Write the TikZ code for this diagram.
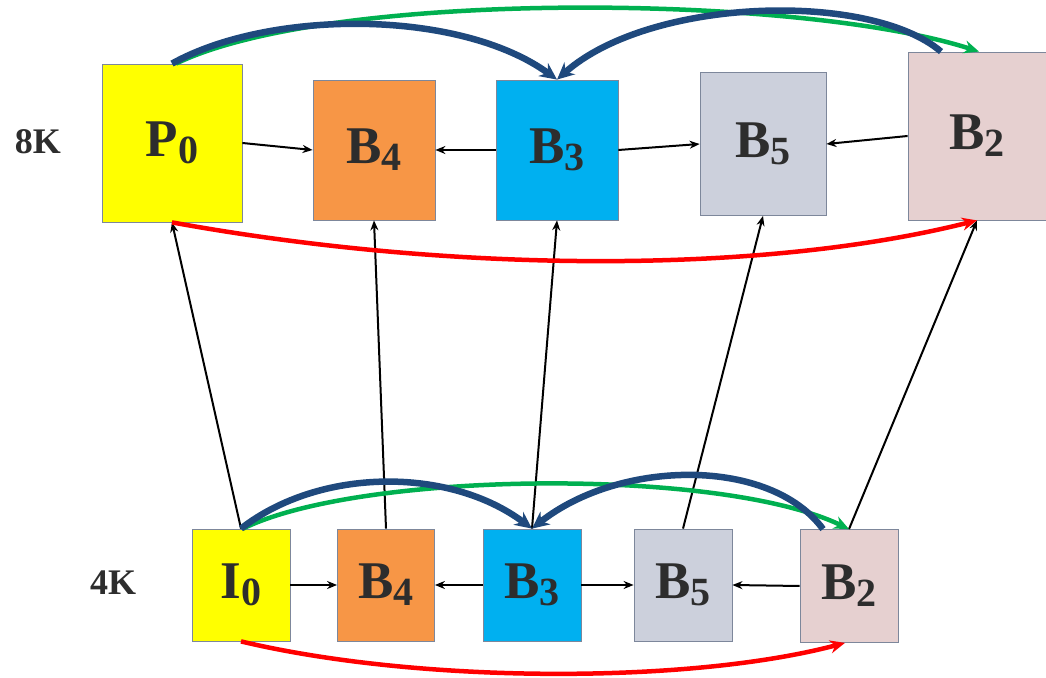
\documentclass[tikz,border=0pt]{standalone}
\usepackage{fontspec}
\setmainfont{Liberation Serif}
\usetikzlibrary{arrows.meta}
\definecolor{boxyellow}{RGB}{255,255,0}
\definecolor{boxorange}{RGB}{247,150,70}
\definecolor{boxcyan}{RGB}{0,176,240}
\definecolor{boxgray}{RGB}{204,208,220}
\definecolor{boxpink}{RGB}{230,208,208}
\definecolor{edgegray}{RGB}{125,135,155}
\definecolor{labelgray}{RGB}{45,45,45}
\definecolor{refblue}{RGB}{31,73,125}
\definecolor{refgreen}{RGB}{0,176,80}
\definecolor{refred}{RGB}{255,0,0}

% frame name with lowered index
\newcommand{\frm}[2]{#1\raisebox{-7pt}{\fontsize{40}{40}\selectfont #2}}

\begin{document}
\begin{tikzpicture}[x=1pt, y=1pt,
  picbox/.style={draw=edgegray, line width=0.8pt, inner sep=0pt, text=labelgray,
    font=\fontsize{53}{53}\selectfont\bfseries},
  reslabel/.style={text=labelgray, font=\fontsize{36}{36}\selectfont\bfseries},
  predarrow/.style={-{Stealth[length=10pt,width=8pt]}, line width=2pt},
  bluearc/.style={refblue, line width=6.5pt, -{Stealth[length=17pt,width=16pt]}},
  greenarc/.style={refgreen, line width=4.5pt, -{Stealth[length=15pt,width=13pt]}},
  redarc/.style={refred, line width=4.5pt, -{Stealth[length=15pt,width=13pt]}}]

  \useasboundingbox (0,0) rectangle (1046,677);

  % resolution labels
  \node[reslabel] (hi) at (38,535) {8K};
  \node[reslabel] (lo) at (113,94) {4K};

  % 8K frames
  \node[picbox, fill=boxyellow, minimum width=140, minimum height=158] (P0) at (172,534) {\frm{P}{0}};
  \node[picbox, fill=boxorange, minimum width=122, minimum height=140] (B4t) at (374,527) {\frm{B}{4}};
  \node[picbox, fill=boxcyan, minimum width=122, minimum height=140] (B3t) at (557,527) {\frm{B}{3}};
  \node[picbox, fill=boxgray, minimum width=126, minimum height=143] (B5t) at (763,533) {\frm{B}{5}};
  \node[picbox, fill=boxpink, minimum width=138, minimum height=168] (B2t) at (977,541) {\frm{B}{2}};

  % 4K frames
  \node[picbox, fill=boxyellow, minimum width=98, minimum height=112] (I0) at (241,92) {\frm{I}{0}};
  \node[picbox, fill=boxorange, minimum width=97, minimum height=112] (B4b) at (386,92) {\frm{B}{4}};
  \node[picbox, fill=boxcyan, minimum width=98, minimum height=112] (B3b) at (532,92) {\frm{B}{3}};
  \node[picbox, fill=boxgray, minimum width=98, minimum height=112] (B5b) at (683,92) {\frm{B}{5}};
  \node[picbox, fill=boxpink, minimum width=98, minimum height=113] (B2b) at (849,91) {\frm{B}{2}};

  % prediction inside each row
  \draw[predarrow] (P0.east) -- (B4t.west);
  \draw[predarrow] (B3t.west) -- (B4t.east);
  \draw[predarrow] (B3t.east) -- (B5t.west);
  \draw[predarrow] (B2t.west) -- (B5t.east);
  \draw[predarrow] (I0.east) -- (B4b.west);
  \draw[predarrow] (B3b.west) -- (B4b.east);
  \draw[predarrow] (B3b.east) -- (B5b.west);
  \draw[predarrow] (B2b.west) -- (B5b.east);

  % 4K to 8K
  \draw[predarrow] (I0.north) -- (P0.south);
  \draw[predarrow] (B4b.north) -- (B4t.south);
  \draw[predarrow] (B3b.north) -- (B3t.south);
  \draw[predarrow] (B5b.north) -- (B5t.south);
  \draw[predarrow] (B2b.north) -- (B2t.south);

  % long references, 8K
  \draw[greenarc] ([xshift=4pt]P0.north) .. controls (330,688) and (800,683) .. ([xshift=2pt]B2t.north);
  \draw[bluearc] (P0.north) .. controls (270,668) and (460,668) .. (B3t.north);
  \draw[bluearc] ([xshift=-36pt]B2t.north) .. controls (870,686) and (650,680) .. (B3t.north);
  \draw[redarc] (P0.south) .. controls (450,404) and (760,402) .. (B2t.south);

  % long references, 4K
  \draw[greenarc] ([xshift=2pt]I0.north) .. controls (360,206) and (720,210) .. (B2b.north);
  \draw[bluearc] (I0.north) .. controls (320,210) and (450,210) .. (B3b.north);
  \draw[bluearc] ([xshift=-26pt]B2b.north) .. controls (770,220) and (620,218) .. (B3b.north);
  \draw[redarc] (I0.south) .. controls (420,-7) and (690,-7) .. ([xshift=-4pt]B2b.south);
\end{tikzpicture}
\end{document}
